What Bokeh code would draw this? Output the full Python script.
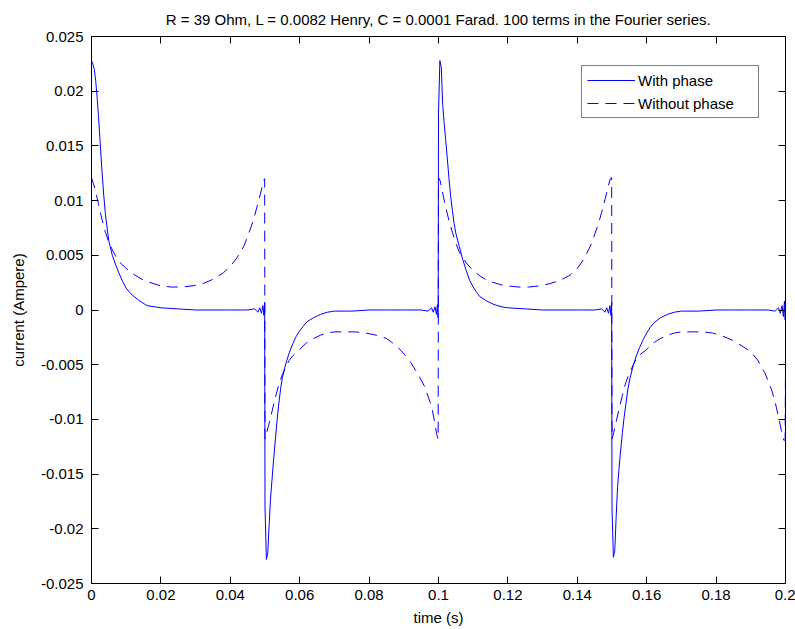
from bokeh.plotting import figure
from bokeh.models import (Range1d, FixedTicker, LinearAxis, Legend, LegendItem,
                          CustomJSTickFormatter, ColumnDataSource)
from bokeh.embed import file_html
from bokeh.resources import INLINE

TITLE = "R = 39 Ohm, L = 0.0082 Henry, C = 0.0001 Farad. 100 terms in the Fourier series."
X_LABEL = "time (s)"
Y_LABEL = "current (Ampere)"
LABEL_WITH = "With phase"
LABEL_WITHOUT = "Without phase"

x_ticks = [0, 0.02, 0.04, 0.06, 0.08, 0.1, 0.12, 0.14, 0.16, 0.18, 0.2]
y_ticks = [-0.025, -0.02, -0.015, -0.01, -0.005, 0, 0.005, 0.01, 0.015, 0.02, 0.025]

# ---- "With phase" (solid) ----
t_with = [
    0.0000, 0.0004, 0.0008, 0.0012, 0.0016, 0.0020, 0.0025, 0.0030, 0.0035, 0.0040, 0.0045, 0.0050,
    0.0060, 0.0070, 0.0080, 0.0090, 0.0100, 0.0110, 0.0120, 0.0140, 0.0160, 0.0180, 0.0200, 0.0250,
    0.0300, 0.0350, 0.0400, 0.0450, 0.0470, 0.0480, 0.0485, 0.0490, 0.0494, 0.0497, 0.0499,
    0.0500, 0.0504, 0.0508, 0.0512, 0.0516, 0.0520, 0.0525, 0.0530, 0.0535, 0.0540, 0.0545, 0.0550,
    0.0560, 0.0570, 0.0580, 0.0590, 0.0600, 0.0610, 0.0620, 0.0640, 0.0660, 0.0680, 0.0700, 0.0750,
    0.0800, 0.0850, 0.0900, 0.0950, 0.0970, 0.0980, 0.0985, 0.0990, 0.0994, 0.0997, 0.0999,
    0.1000, 0.1004, 0.1008, 0.1012, 0.1016, 0.1020, 0.1025, 0.1030, 0.1035, 0.1040, 0.1045, 0.1050,
    0.1060, 0.1070, 0.1080, 0.1090, 0.1100, 0.1110, 0.1120, 0.1140, 0.1160, 0.1180, 0.1200, 0.1250,
    0.1300, 0.1350, 0.1400, 0.1450, 0.1470, 0.1480, 0.1485, 0.1490, 0.1494, 0.1497, 0.1499,
    0.1500, 0.1504, 0.1508, 0.1512, 0.1516, 0.1520, 0.1525, 0.1530, 0.1535, 0.1540, 0.1545, 0.1550,
    0.1560, 0.1570, 0.1580, 0.1590, 0.1600, 0.1610, 0.1620, 0.1640, 0.1660, 0.1680, 0.1700, 0.1750,
    0.1800, 0.1850, 0.1900, 0.1950, 0.1970, 0.1980, 0.1985, 0.1990, 0.1994, 0.1997, 0.1999, 0.2000,
]
i_with = [
    0.0228, 0.0225, 0.0220, 0.0210, 0.0195, 0.0178, 0.0153, 0.0128, 0.0106, 0.0088, 0.0075, 0.0063,
    0.0050, 0.0041, 0.0033, 0.0026, 0.0020, 0.0016, 0.0013, 0.0008, 0.0004, 0.0003, 0.0002, 0.0001,
    0.0000, 0.0000, 0.0000, 0.0000, 0.0001, -0.0002, 0.0002, -0.0003, 0.0004, -0.0005, 0.0007,
    -0.0180, -0.0228, -0.0222, -0.0196, -0.0172, -0.0156, -0.0136, -0.0118, -0.0100, -0.0085, -0.0072, -0.0062,
    -0.0049, -0.0039, -0.0031, -0.0024, -0.0019, -0.0015, -0.0011, -0.0007, -0.0004, -0.0002, -0.0001, -0.0001,
    0.0000, 0.0000, 0.0000, 0.0000, -0.0001, 0.0002, -0.0002, 0.0003, -0.0004, 0.0005, -0.0007,
    0.0180, 0.0228, 0.0222, 0.0188, 0.0172, 0.0158, 0.0140, 0.0121, 0.0104, 0.0091, 0.0079, 0.0070,
    0.0058, 0.0046, 0.0036, 0.0027, 0.0021, 0.0016, 0.0012, 0.0008, 0.0005, 0.0003, 0.0002, 0.0001,
    0.0000, 0.0000, 0.0000, 0.0000, 0.0001, -0.0002, 0.0002, -0.0003, 0.0004, -0.0005, 0.0007,
    -0.0180, -0.0226, -0.0220, -0.0189, -0.0162, -0.0146, -0.0128, -0.0112, -0.0098, -0.0086, -0.0074, -0.0065,
    -0.0052, -0.0042, -0.0034, -0.0027, -0.0021, -0.0016, -0.0012, -0.0007, -0.0004, -0.0002, -0.0001, -0.0001,
    0.0000, 0.0000, 0.0000, 0.0000, -0.0001, 0.0002, -0.0003, 0.0004, -0.0006, 0.0008, -0.0009, 0.0010,
]

# ---- "Without phase" (dashed) ----
t_without = [
    0.0000, 0.0005, 0.0010, 0.0020, 0.0030, 0.0040, 0.0050, 0.0060, 0.0070, 0.0080, 0.0100, 0.0120,
    0.0140, 0.0160, 0.0180, 0.0200, 0.0230, 0.0260, 0.0290, 0.0320, 0.0350, 0.0380, 0.0400, 0.0420,
    0.0440, 0.0460, 0.0470, 0.0480, 0.0490, 0.0495, 0.0499,
    0.0500, 0.0505, 0.0510, 0.0520, 0.0530, 0.0540, 0.0550, 0.0560, 0.0570, 0.0580, 0.0600, 0.0620,
    0.0640, 0.0660, 0.0680, 0.0700, 0.0730, 0.0760, 0.0790, 0.0820, 0.0850, 0.0880, 0.0900, 0.0920,
    0.0940, 0.0960, 0.0970, 0.0980, 0.0990, 0.0995, 0.0999,
    0.1000, 0.1005, 0.1010, 0.1020, 0.1030, 0.1040, 0.1050, 0.1060, 0.1070, 0.1080, 0.1100, 0.1120,
    0.1140, 0.1160, 0.1180, 0.1200, 0.1230, 0.1260, 0.1290, 0.1320, 0.1350, 0.1380, 0.1400, 0.1420,
    0.1440, 0.1460, 0.1470, 0.1480, 0.1490, 0.1495, 0.1499,
    0.1500, 0.1505, 0.1510, 0.1520, 0.1530, 0.1540, 0.1550, 0.1560, 0.1570, 0.1580, 0.1600, 0.1620,
    0.1640, 0.1660, 0.1680, 0.1700, 0.1730, 0.1760, 0.1790, 0.1820, 0.1850, 0.1880, 0.1900, 0.1920,
    0.1940, 0.1960, 0.1970, 0.1980, 0.1990, 0.1995, 0.1999, 0.2000,
]
i_without = [
    0.0121, 0.0116, 0.0111, 0.0097, 0.0083, 0.0071, 0.0062, 0.0055, 0.0049, 0.0044, 0.0038, 0.0033,
    0.0029, 0.0026, 0.0024, 0.0022, 0.0021, 0.0021, 0.0022, 0.0024, 0.0028, 0.0034, 0.0040, 0.0048,
    0.0059, 0.0076, 0.0086, 0.0098, 0.0110, 0.0117, 0.0120,
    -0.0118, -0.0112, -0.0106, -0.0093, -0.0080, -0.0068, -0.0059, -0.0052, -0.0046, -0.0042, -0.0036, -0.0030,
    -0.0026, -0.0023, -0.0021, -0.0020, -0.0020, -0.0020, -0.0021, -0.0023, -0.0026, -0.0033, -0.0040, -0.0048,
    -0.0058, -0.0070, -0.0079, -0.0088, -0.0104, -0.0114, -0.0118,
    0.0121, 0.0118, 0.0110, 0.0095, 0.0082, 0.0071, 0.0061, 0.0053, 0.0048, 0.0043, 0.0036, 0.0031,
    0.0027, 0.0025, 0.0023, 0.0022, 0.0021, 0.0021, 0.0022, 0.0024, 0.0027, 0.0032, 0.0038, 0.0047,
    0.0060, 0.0078, 0.0089, 0.0101, 0.0114, 0.0120, 0.0121,
    -0.0118, -0.0112, -0.0105, -0.0091, -0.0078, -0.0066, -0.0058, -0.0051, -0.0045, -0.0041, -0.0036, -0.0030,
    -0.0026, -0.0023, -0.0021, -0.0020, -0.0020, -0.0020, -0.0021, -0.0024, -0.0028, -0.0034, -0.0038, -0.0046,
    -0.0057, -0.0073, -0.0084, -0.0098, -0.0113, -0.0119, -0.0119, -0.0049,
]

FONT = "Liberation Sans"
FS = "15px"
BLUE = "#0000ff"

p = figure(width=795, height=629, output_backend="svg", toolbar_location=None,
           x_range=Range1d(0, 0.2), y_range=Range1d(-0.025, 0.025),
           min_border_left=91, min_border_right=10, min_border_top=36, min_border_bottom=46,
           background_fill_color="white", border_fill_color="white")
p.grid.visible = False
p.outline_line_color = "black"
p.outline_line_width = 1

p.title.text = TITLE
p.title.align = "center"
p.title.text_font = FONT
p.title.text_font_size = FS
p.title.text_font_style = "normal"
p.title.text_color = "black"
p.title.standoff = 17

fmt = CustomJSTickFormatter(code="return String(Number(tick.toFixed(4)));")

def style_axis(ax, ticks, show_labels):
    ax.ticker = FixedTicker(ticks=ticks)
    ax.formatter = fmt
    ax.major_tick_in = 7
    ax.major_tick_out = 0
    ax.minor_tick_line_color = None
    ax.axis_line_color = "black"
    ax.major_tick_line_color = "black"
    ax.major_label_text_font = FONT
    ax.axis_label_text_font = FONT
    ax.axis_label_text_font_size = FS
    ax.axis_label_text_font_style = "normal"
    ax.axis_label_text_color = "black"
    if show_labels:
        ax.major_label_text_font_size = FS
        ax.major_label_text_color = "black"
    else:
        ax.major_label_text_font_size = "1px"
        ax.major_label_text_color = None
        ax.major_label_standoff = 0

style_axis(p.xaxis[0], x_ticks, True)
style_axis(p.yaxis[0], y_ticks, True)
p.xaxis[0].axis_label = X_LABEL
p.xaxis[0].major_label_standoff = 6
p.xaxis[0].axis_label_standoff = 6
p.yaxis[0].axis_label = Y_LABEL
p.yaxis[0].major_label_standoff = 8
p.yaxis[0].axis_label_standoff = 11

top_axis = LinearAxis()
style_axis(top_axis, x_ticks, False)
p.add_layout(top_axis, "above")
right_axis = LinearAxis()
style_axis(right_axis, y_ticks, False)
p.add_layout(right_axis, "right")

src_with = ColumnDataSource(dict(t=t_with, i=i_with))
src_without = ColumnDataSource(dict(t=t_without, i=i_without))
r_with = p.line("t", "i", source=src_with, line_color=BLUE, line_width=1)
r_without = p.line("t", "i", source=src_without, line_color=BLUE, line_width=1,
                   line_dash="11 7")

legend = Legend(items=[LegendItem(label=LABEL_WITH, renderers=[r_with]),
                       LegendItem(label=LABEL_WITHOUT, renderers=[r_without])],
                location=(490, 465), orientation="vertical")
legend.border_line_color = "black"
legend.border_line_width = 1
legend.background_fill_color = "white"
legend.background_fill_alpha = 1
legend.label_text_font = FONT
legend.label_text_font_size = FS
legend.label_text_color = "black"
legend.glyph_width = 48
legend.glyph_height = 18
legend.label_height = 18
legend.label_width = 115
legend.label_standoff = 3
legend.padding = 5
legend.spacing = 5
legend.margin = 0
p.add_layout(legend, "center")

open("out.html", "w").write(file_html(p, INLINE))
